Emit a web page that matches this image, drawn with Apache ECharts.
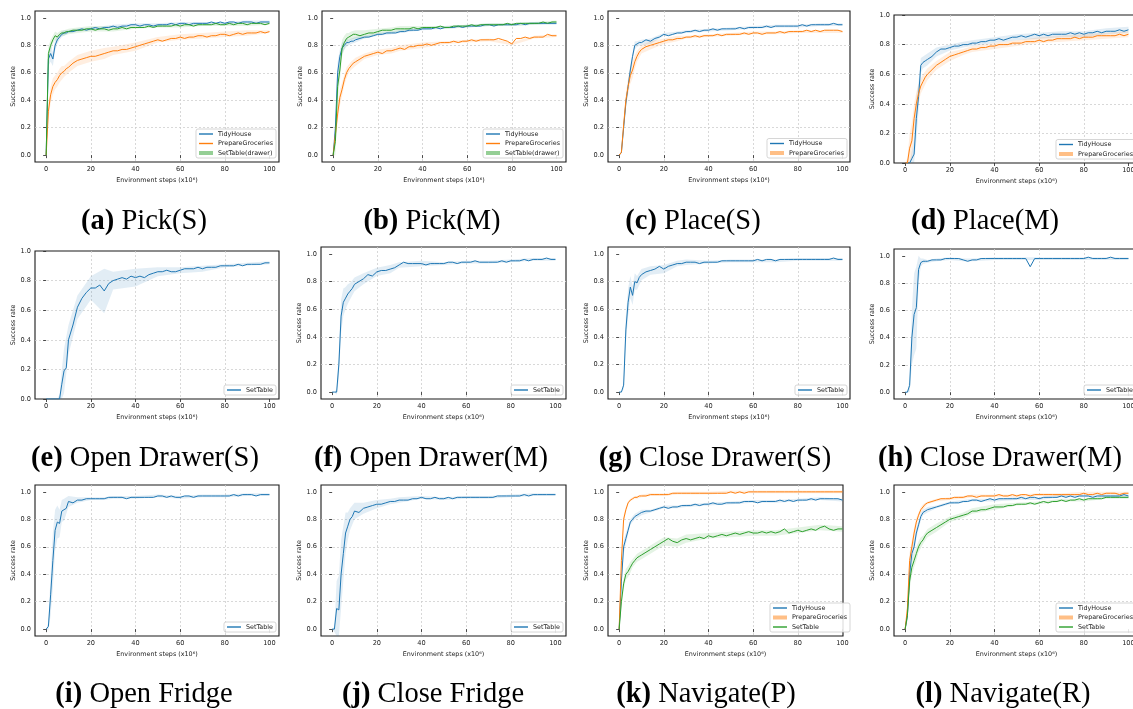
<!DOCTYPE html>
<html>
<head>
<meta charset="utf-8">
<script src="https://cdn.jsdelivr.net/npm/echarts@6/dist/echarts.min.js"></script>
<style>
  html, body { margin: 0; padding: 0; background: #fff; }
  #chart { width: 1133px; height: 709px; }
</style>
</head>
<body>
<div id="chart"></div>
<script>
// x positions (env steps x1e6) for every curve
const XS = [0,1,2,3,4,5,6,7,8,9,10,
  12,14,16,18,20,22,24,26,28,30,
  32,34,36,38,40,42,44,46,48,50,
  52,54,56,58,60,62,64,66,68,70,
  72,74,76,78,80,82,84,86,88,90,
  92,94,96,98,100];
// x positions for the shaded std bands
const BX = [0,1,2,3,4,5,6,7,8,10,14,20,26,30,40,50,60,70,80,90,100];

const X_TICKS = [0,20,40,60,80,100];
const Y_TICKS = [0,0.2,0.4,0.6,0.8,1.0];

// (a) Pick(S)
const A_TIDY = [0,0.70,0.74,0.70,0.80,0.84,0.86,0.88,0.89,0.89,0.90,
  0.90,0.91,0.92,0.91,0.92,0.93,0.92,0.93,0.93,0.94,
  0.93,0.94,0.94,0.95,0.95,0.94,0.95,0.95,0.94,0.95,
  0.95,0.95,0.96,0.95,0.96,0.96,0.95,0.96,0.96,0.96,
  0.96,0.97,0.96,0.97,0.96,0.97,0.97,0.96,0.97,0.97,
  0.97,0.96,0.97,0.97,0.97];
const A_PREP = [0,0.32,0.44,0.50,0.53,0.55,0.58,0.60,0.61,0.63,0.64,
  0.67,0.69,0.70,0.71,0.72,0.72,0.73,0.74,0.75,0.76,
  0.76,0.77,0.77,0.78,0.79,0.80,0.81,0.82,0.83,0.84,
  0.83,0.84,0.85,0.85,0.86,0.85,0.86,0.86,0.87,0.87,
  0.86,0.87,0.87,0.88,0.88,0.87,0.88,0.89,0.88,0.89,
  0.89,0.89,0.90,0.89,0.90];
const A_SET = [0,0.74,0.80,0.84,0.87,0.86,0.88,0.89,0.89,0.90,0.90,
  0.91,0.91,0.91,0.92,0.92,0.91,0.92,0.92,0.91,0.92,
  0.92,0.93,0.92,0.93,0.93,0.93,0.93,0.94,0.93,0.94,
  0.94,0.94,0.94,0.95,0.94,0.95,0.95,0.94,0.95,0.95,
  0.95,0.95,0.96,0.95,0.95,0.96,0.95,0.96,0.96,0.95,
  0.96,0.96,0.96,0.95,0.96];
const A_TIDY_SD = [0,0.05,0.06,0.05,0.04,0.03,0.02,0.02,0.02,0.01,0.01,0.01,0.01,0.01,0.01,0.01,0.01,0.01,0.01,0.01,0.01];
const A_PREP_SD = [0,0.06,0.06,0.06,0.05,0.05,0.05,0.05,0.04,0.04,0.04,0.04,0.04,0.03,0.03,0.02,0.02,0.02,0.02,0.02,0.01];
const A_SET_SD = [0,0.05,0.04,0.03,0.03,0.03,0.02,0.02,0.02,0.02,0.02,0.02,0.02,0.02,0.01,0.01,0.01,0.01,0.01,0.01,0.01];

// (b) Pick(M)
const B_TIDY = [0,0.20,0.60,0.72,0.78,0.80,0.82,0.82,0.83,0.83,0.84,
  0.85,0.86,0.86,0.87,0.88,0.88,0.89,0.89,0.89,0.90,
  0.90,0.91,0.91,0.91,0.92,0.92,0.92,0.93,0.92,0.93,
  0.93,0.93,0.94,0.93,0.94,0.94,0.94,0.94,0.95,0.95,
  0.94,0.95,0.95,0.95,0.95,0.95,0.96,0.95,0.96,0.96,
  0.96,0.96,0.96,0.96,0.96];
const B_PREP = [0,0.15,0.30,0.42,0.48,0.55,0.60,0.63,0.65,0.67,0.68,
  0.70,0.72,0.73,0.74,0.75,0.74,0.76,0.76,0.77,0.78,
  0.77,0.79,0.79,0.80,0.80,0.81,0.80,0.81,0.82,0.82,
  0.82,0.83,0.82,0.83,0.83,0.84,0.83,0.84,0.84,0.84,
  0.84,0.85,0.84,0.83,0.81,0.85,0.85,0.86,0.85,0.86,
  0.86,0.86,0.88,0.87,0.87];
const B_SET = [0,0.10,0.50,0.62,0.78,0.82,0.85,0.86,0.87,0.88,0.88,
  0.87,0.88,0.89,0.89,0.90,0.91,0.91,0.91,0.92,0.92,
  0.92,0.92,0.93,0.92,0.93,0.93,0.93,0.93,0.94,0.93,
  0.93,0.94,0.94,0.94,0.94,0.95,0.94,0.95,0.95,0.95,
  0.95,0.95,0.95,0.96,0.95,0.96,0.96,0.96,0.96,0.96,
  0.96,0.97,0.96,0.97,0.97];
const B_TIDY_SD = [0,0.05,0.08,0.05,0.04,0.03,0.03,0.02,0.02,0.02,0.01,0.01,0.01,0.01,0.01,0.01,0.01,0.01,0.01,0.01,0.01];
const B_PREP_SD = [0,0.05,0.06,0.06,0.05,0.04,0.04,0.03,0.03,0.03,0.02,0.02,0.02,0.02,0.02,0.01,0.01,0.01,0.01,0.01,0.01];
const B_SET_SD = [0,0.10,0.10,0.08,0.06,0.05,0.04,0.03,0.03,0.03,0.03,0.02,0.02,0.02,0.01,0.01,0.01,0.01,0.01,0.01,0.01];

// (c) Place(S)
const C_TIDY = [0,0.02,0.20,0.38,0.50,0.62,0.72,0.80,0.81,0.82,0.82,
  0.84,0.83,0.85,0.86,0.88,0.87,0.88,0.89,0.89,0.90,
  0.90,0.91,0.90,0.91,0.91,0.92,0.91,0.92,0.92,0.92,
  0.92,0.93,0.92,0.93,0.93,0.93,0.93,0.94,0.93,0.94,
  0.94,0.94,0.94,0.94,0.94,0.95,0.94,0.95,0.95,0.95,
  0.95,0.95,0.96,0.95,0.95];
const C_PREP = [0,0.02,0.22,0.40,0.50,0.58,0.62,0.68,0.72,0.75,0.77,
  0.79,0.80,0.81,0.82,0.83,0.84,0.84,0.85,0.85,0.86,
  0.86,0.87,0.86,0.87,0.87,0.87,0.88,0.87,0.88,0.88,
  0.88,0.88,0.89,0.88,0.89,0.89,0.88,0.89,0.89,0.89,
  0.90,0.89,0.90,0.90,0.90,0.90,0.91,0.90,0.91,0.90,
  0.91,0.91,0.91,0.91,0.90];
const C_TIDY_SD = [0,0.01,0.03,0.04,0.04,0.04,0.03,0.03,0.02,0.02,0.02,0.01,0.01,0.01,0.01,0.01,0.01,0.01,0.01,0.01,0.01];
const C_PREP_SD = [0,0.01,0.03,0.05,0.06,0.06,0.06,0.05,0.04,0.03,0.03,0.02,0.02,0.01,0.01,0.01,0.01,0.01,0.01,0.01,0.01];

// (d) Place(M)
const D_TIDY = [0,0,0,0.03,0.06,0.30,0.45,0.66,0.68,0.69,0.70,
  0.72,0.75,0.77,0.77,0.78,0.79,0.79,0.80,0.80,0.81,
  0.81,0.82,0.82,0.83,0.83,0.84,0.83,0.84,0.85,0.85,
  0.86,0.85,0.86,0.87,0.86,0.87,0.86,0.87,0.87,0.87,
  0.87,0.88,0.87,0.88,0.87,0.88,0.88,0.89,0.88,0.89,
  0.89,0.89,0.90,0.89,0.90];
const D_PREP = [0,0,0.10,0.15,0.30,0.40,0.47,0.52,0.55,0.58,0.60,
  0.63,0.66,0.68,0.70,0.72,0.73,0.74,0.75,0.76,0.77,
  0.77,0.78,0.78,0.79,0.79,0.80,0.80,0.80,0.81,0.81,
  0.81,0.82,0.82,0.82,0.83,0.82,0.83,0.83,0.84,0.84,
  0.84,0.84,0.85,0.84,0.85,0.85,0.85,0.86,0.86,0.86,
  0.86,0.86,0.87,0.86,0.87];
const D_TIDY_SD = [0,0,0,0.05,0.10,0.15,0.10,0.05,0.04,0.04,0.03,0.02,0.02,0.02,0.02,0.02,0.02,0.02,0.02,0.02,0.02];
const D_PREP_SD = [0,0.03,0.10,0.12,0.10,0.08,0.06,0.05,0.05,0.04,0.03,0.03,0.02,0.02,0.02,0.02,0.02,0.02,0.02,0.02,0.02];

// (e) Open Drawer(S)
const E_SET = [0,0,0,0,0,0,0,0.10,0.19,0.21,0.40,
  0.50,0.62,0.68,0.72,0.75,0.75,0.77,0.73,0.78,0.80,
  0.81,0.82,0.81,0.83,0.82,0.83,0.82,0.84,0.85,0.86,
  0.86,0.87,0.86,0.86,0.87,0.88,0.88,0.88,0.89,0.88,
  0.89,0.89,0.89,0.90,0.90,0.90,0.90,0.91,0.90,0.91,
  0.91,0.91,0.91,0.92,0.92];
const E_SET_SD = [0,0,0,0,0,0,0.03,0.10,0.15,0.10,0.08,0.08,0.15,0.06,0.06,0.03,0.02,0.02,0.01,0.01,0.01];

// (f) Open Drawer(M)
const F_SET = [0,0,0,0.20,0.55,0.65,0.68,0.71,0.73,0.75,0.78,
  0.80,0.82,0.85,0.84,0.87,0.88,0.88,0.89,0.90,0.92,
  0.94,0.93,0.93,0.93,0.93,0.92,0.93,0.93,0.93,0.93,
  0.94,0.94,0.93,0.94,0.94,0.94,0.95,0.94,0.94,0.94,
  0.94,0.94,0.95,0.94,0.95,0.95,0.95,0.96,0.95,0.96,
  0.96,0.96,0.97,0.96,0.96];
const F_SET_SD = [0,0,0.02,0.10,0.12,0.10,0.08,0.07,0.06,0.05,0.04,0.03,0.03,0.02,0.02,0.01,0.01,0.01,0.01,0.01,0.01];

// (g) Close Drawer(S)
const G_SET = [0,0,0.05,0.45,0.65,0.76,0.70,0.80,0.79,0.83,0.85,
  0.87,0.88,0.89,0.91,0.89,0.91,0.92,0.93,0.93,0.94,
  0.94,0.94,0.93,0.94,0.94,0.94,0.94,0.95,0.95,0.95,
  0.95,0.95,0.95,0.95,0.95,0.96,0.95,0.96,0.96,0.95,
  0.96,0.96,0.96,0.96,0.96,0.96,0.96,0.96,0.96,0.96,
  0.96,0.96,0.97,0.96,0.96];
const G_SET_SD = [0,0,0.03,0.10,0.10,0.08,0.07,0.06,0.05,0.04,0.03,0.03,0.02,0.02,0.01,0.01,0.01,0.01,0.01,0.01,0.01];

// (h) Close Drawer(M)
const H_SET = [0,0,0.05,0.40,0.57,0.62,0.90,0.95,0.96,0.96,0.96,
  0.97,0.97,0.97,0.98,0.98,0.98,0.98,0.97,0.96,0.97,
  0.97,0.98,0.98,0.98,0.98,0.98,0.98,0.98,0.98,0.98,
  0.98,0.98,0.92,0.98,0.98,0.98,0.98,0.98,0.98,0.98,
  0.98,0.98,0.98,0.98,0.98,0.99,0.98,0.98,0.98,0.98,
  0.99,0.98,0.98,0.98,0.98];
const H_SET_SD = [0,0,0.05,0.20,0.30,0.30,0.10,0.03,0.02,0.01,0.01,0.01,0.01,0.01,0.01,0.01,0.01,0.01,0.01,0.01,0.01];

// (i) Open Fridge
const I_SET = [0,0.02,0.25,0.50,0.72,0.78,0.77,0.86,0.87,0.88,0.93,
  0.92,0.94,0.94,0.95,0.95,0.95,0.95,0.95,0.96,0.96,
  0.96,0.96,0.95,0.96,0.96,0.96,0.96,0.96,0.96,0.97,
  0.97,0.96,0.97,0.96,0.96,0.97,0.97,0.96,0.97,0.97,
  0.97,0.97,0.97,0.97,0.97,0.97,0.98,0.97,0.98,0.98,
  0.98,0.97,0.98,0.98,0.98];
const I_SET_SD = [0,0.03,0.15,0.20,0.15,0.12,0.10,0.08,0.08,0.04,0.02,0.01,0.01,0.01,0.01,0.01,0.01,0.01,0.01,0.01,0.01];

// (j) Close Fridge
const J_SET = [0,0,0.15,0.14,0.40,0.55,0.70,0.75,0.80,0.82,0.86,
  0.85,0.88,0.89,0.90,0.91,0.91,0.92,0.93,0.93,0.94,
  0.94,0.94,0.95,0.95,0.96,0.95,0.95,0.96,0.95,0.95,
  0.96,0.95,0.96,0.96,0.96,0.96,0.96,0.96,0.96,0.96,
  0.96,0.97,0.97,0.97,0.97,0.97,0.97,0.98,0.97,0.98,
  0.98,0.98,0.98,0.98,0.98];
const J_SET_SD = [0,0.02,0.20,0.25,0.25,0.20,0.15,0.10,0.08,0.06,0.04,0.03,0.02,0.02,0.01,0.01,0.01,0.01,0.01,0.01,0.01];

// (k) Navigate(P)
const K_TIDY = [0,0.35,0.60,0.66,0.72,0.78,0.80,0.82,0.83,0.84,0.85,
  0.86,0.86,0.87,0.88,0.89,0.88,0.89,0.89,0.90,0.90,
  0.90,0.91,0.90,0.91,0.91,0.92,0.91,0.91,0.92,0.92,
  0.92,0.92,0.93,0.93,0.93,0.92,0.93,0.93,0.93,0.93,
  0.94,0.93,0.94,0.93,0.94,0.94,0.94,0.95,0.94,0.95,
  0.95,0.95,0.95,0.95,0.94];
const K_PREP = [0,0.50,0.80,0.87,0.92,0.94,0.95,0.96,0.96,0.97,0.97,
  0.97,0.98,0.98,0.98,0.98,0.98,0.99,0.99,0.99,0.99,
  0.99,0.99,0.99,0.99,0.99,0.99,0.99,0.99,0.99,1.00,
  0.99,1.00,0.99,1.00,1.00,1.00,1.00,1.00,1.00,1.00,
  1.00,1.00,1.00,1.00,1.00,1.00,1.00,1.00,1.00,1.00,
  1.00,1.00,1.00,1.00,1.00];
const K_SET = [0,0.20,0.33,0.40,0.42,0.45,0.48,0.50,0.52,0.53,0.54,
  0.56,0.58,0.60,0.62,0.64,0.66,0.64,0.63,0.65,0.66,
  0.65,0.66,0.67,0.66,0.68,0.67,0.68,0.69,0.68,0.69,
  0.70,0.69,0.70,0.71,0.70,0.70,0.71,0.70,0.71,0.70,
  0.71,0.73,0.70,0.71,0.72,0.71,0.72,0.73,0.72,0.74,
  0.75,0.73,0.72,0.73,0.73];
const K_TIDY_SD = [0,0.05,0.05,0.04,0.03,0.02,0.02,0.02,0.02,0.02,0.01,0.01,0.01,0.01,0.01,0.01,0.01,0.01,0.01,0.01,0.01];
const K_PREP_SD = [0,0.05,0.03,0.02,0.01,0.01,0.01,0.01,0.01,0.01,0.01,0.01,0.01,0.01,0.01,0.01,0.01,0.01,0.01,0.01,0.01];
const K_SET_SD = [0,0.04,0.04,0.04,0.04,0.04,0.03,0.03,0.03,0.03,0.03,0.03,0.03,0.03,0.02,0.02,0.02,0.02,0.02,0.02,0.02];

// (l) Navigate(R)
const L_TIDY = [0,0.10,0.40,0.55,0.60,0.70,0.76,0.82,0.85,0.86,0.87,
  0.88,0.89,0.90,0.91,0.92,0.92,0.92,0.93,0.93,0.94,
  0.94,0.93,0.94,0.95,0.94,0.95,0.95,0.95,0.95,0.95,
  0.96,0.95,0.96,0.96,0.95,0.96,0.96,0.96,0.96,0.97,
  0.96,0.97,0.96,0.97,0.97,0.97,0.96,0.97,0.97,0.97,
  0.97,0.97,0.97,0.98,0.97];
const L_PREP = [0,0.15,0.50,0.60,0.70,0.78,0.83,0.87,0.89,0.91,0.92,
  0.93,0.94,0.95,0.95,0.95,0.96,0.96,0.96,0.97,0.97,
  0.96,0.97,0.97,0.97,0.97,0.98,0.97,0.97,0.98,0.97,
  0.98,0.98,0.97,0.98,0.98,0.98,0.98,0.98,0.98,0.98,
  0.98,0.98,0.98,0.98,0.99,0.98,0.98,0.99,0.98,0.99,
  0.99,0.99,0.98,0.99,0.99];
const L_SET = [0,0.10,0.35,0.45,0.50,0.55,0.60,0.63,0.65,0.68,0.70,
  0.72,0.74,0.76,0.78,0.80,0.81,0.82,0.83,0.84,0.86,
  0.86,0.87,0.87,0.88,0.89,0.89,0.89,0.90,0.90,0.91,
  0.91,0.91,0.92,0.91,0.92,0.93,0.92,0.93,0.93,0.94,
  0.93,0.94,0.94,0.95,0.94,0.95,0.95,0.95,0.95,0.96,
  0.96,0.96,0.96,0.96,0.96];
const L_TIDY_SD = [0,0.04,0.08,0.06,0.05,0.04,0.03,0.03,0.02,0.02,0.01,0.01,0.01,0.01,0.01,0.01,0.01,0.01,0.01,0.01,0.01];
const L_PREP_SD = [0,0.04,0.06,0.05,0.04,0.03,0.02,0.02,0.02,0.01,0.01,0.01,0.01,0.01,0.01,0.01,0.01,0.01,0.01,0.01,0.01];
const L_SET_SD = [0,0.04,0.06,0.06,0.05,0.05,0.04,0.04,0.03,0.03,0.03,0.02,0.02,0.02,0.02,0.01,0.01,0.01,0.01,0.01,0.01];

const BLUE = '#1f77b4', ORANGE = '#ff7f0e', GREEN = '#2ca02c';
const PX_PER_STEP = 2.233; // horizontal scale shared by all panels

// layout of the 12 subplots
const PANELS = [
  {cap:['(a)','Pick(S)'], cx:144, cy:222, l:35, t:11, w:244, h:151, y0:-0.05, y1:1.05, thick:'SetTable(drawer)',
   lines:[['TidyHouse',A_TIDY,A_TIDY_SD,BLUE],['PrepareGroceries',A_PREP,A_PREP_SD,ORANGE],['SetTable(drawer)',A_SET,A_SET_SD,GREEN]]},
  {cap:['(b)','Pick(M)'], cx:432, cy:222, l:322, t:11, w:244, h:151, y0:-0.05, y1:1.05, thick:'SetTable(drawer)',
   lines:[['TidyHouse',B_TIDY,B_TIDY_SD,BLUE],['PrepareGroceries',B_PREP,B_PREP_SD,ORANGE],['SetTable(drawer)',B_SET,B_SET_SD,GREEN]]},
  {cap:['(c)','Place(S)'], cx:693, cy:222, l:608, t:11, w:242, h:151, y0:-0.05, y1:1.05, thick:'PrepareGroceries',
   lines:[['TidyHouse',C_TIDY,C_TIDY_SD,BLUE],['PrepareGroceries',C_PREP,C_PREP_SD,ORANGE]]},
  {cap:['(d)','Place(M)'], cx:985, cy:222, l:894, t:15, w:245, h:148, y0:0, y1:1, thick:'PrepareGroceries',
   lines:[['TidyHouse',D_TIDY,D_TIDY_SD,BLUE],['PrepareGroceries',D_PREP,D_PREP_SD,ORANGE]]},
  {cap:['(e)','Open Drawer(S)'], cx:145, cy:459, l:35, t:251, w:244, h:148, y0:0, y1:1,
   lines:[['SetTable',E_SET,E_SET_SD,BLUE]]},
  {cap:['(f)','Open Drawer(M)'], cx:431, cy:459, l:321, t:247, w:245, h:152, y0:-0.05, y1:1.05,
   lines:[['SetTable',F_SET,F_SET_SD,BLUE]]},
  {cap:['(g)','Close Drawer(S)'], cx:715, cy:459, l:608, t:247, w:242, h:152, y0:-0.05, y1:1.05,
   lines:[['SetTable',G_SET,G_SET_SD,BLUE]]},
  {cap:['(h)','Close Drawer(M)'], cx:1000, cy:459, l:894, t:249, w:245, h:150, y0:-0.05, y1:1.05,
   lines:[['SetTable',H_SET,H_SET_SD,BLUE]]},
  {cap:['(i)','Open Fridge'], cx:144, cy:695, l:35, t:485, w:244, h:151, y0:-0.05, y1:1.05,
   lines:[['SetTable',I_SET,I_SET_SD,BLUE]]},
  {cap:['(j)','Close Fridge'], cx:433, cy:695, l:321, t:485, w:245, h:151, y0:-0.05, y1:1.05,
   lines:[['SetTable',J_SET,J_SET_SD,BLUE]]},
  {cap:['(k)','Navigate(P)'], cx:706, cy:695, l:608, t:485, w:235, h:151, y0:-0.05, y1:1.05, thick:'PrepareGroceries', legRight:850,
   lines:[['TidyHouse',K_TIDY,K_TIDY_SD,BLUE],['PrepareGroceries',K_PREP,K_PREP_SD,ORANGE],['SetTable',K_SET,K_SET_SD,GREEN]]},
  {cap:['(l)','Navigate(R)'], cx:1003, cy:695, l:894, t:485, w:245, h:151, y0:-0.05, y1:1.05, thick:'PrepareGroceries',
   lines:[['TidyHouse',L_TIDY,L_TIDY_SD,BLUE],['PrepareGroceries',L_PREP,L_PREP_SD,ORANGE],['SetTable',L_SET,L_SET_SD,GREEN]]}
];

const W = 1133, H = 709;
const SANS = 'DejaVu Sans';
const SERIF = 'Liberation Serif';

// polygon between lower and upper band edges, drawn once per band series
function bandRender(col) {
  return function (params, api) {
    if (params.dataIndex !== 0) return null;
    const n = params.dataInsideLength;
    const upper = [], lower = [];
    for (let k = 0; k < n; k++) {
      const x = api.value(0, k);
      upper.push(api.coord([x, api.value(2, k)]));
      lower.push(api.coord([x, api.value(1, k)]));
    }
    return {
      type: 'polygon',
      shape: { points: upper.concat(lower.reverse()) },
      style: { fill: col, opacity: 0.13 },
      silent: true
    };
  };
}

let option = {
  animation: false,
  backgroundColor: '#fff',
  grid: [], xAxis: [], yAxis: [], legend: [], series: [], graphic: []
};

PANELS.forEach((p, i) => {
  option.grid.push({
    left: p.l, top: p.t, width: p.w, height: p.h,
    show: true, borderColor: '#1a1a1a', borderWidth: 1.1,
    outerBoundsMode: 'none'
  });
  option.xAxis.push({
    type: 'value', gridIndex: i,
    min: -5, max: -5 + p.w / PX_PER_STEP,
    axisLine: { show: false },
    axisTick: { show: true, length: 3, customValues: X_TICKS, lineStyle: { color: '#222', width: 0.8 } },
    axisLabel: { customValues: X_TICKS, fontSize: 6.6, color: '#222', margin: 4, fontFamily: SANS },
    splitLine: { show: true, showMinLine: false, showMaxLine: false,
      lineStyle: { color: '#cfcfcf', width: 0.8, type: [2, 2] } },
    name: 'Environment steps (x10\u2076)', nameLocation: 'middle', nameGap: 15,
    nameTextStyle: { fontSize: 6.4, color: '#222', fontFamily: SANS }
  });
  option.yAxis.push({
    type: 'value', gridIndex: i,
    min: p.y0, max: p.y1,
    axisLine: { show: false },
    axisTick: { show: true, length: 3, customValues: Y_TICKS, lineStyle: { color: '#222', width: 0.8 } },
    axisLabel: { customValues: Y_TICKS, fontSize: 6.6, color: '#222', margin: 4, fontFamily: SANS,
      formatter: v => v.toFixed(1) },
    splitLine: { show: true, showMinLine: false, showMaxLine: false,
      lineStyle: { color: '#cfcfcf', width: 0.8, type: [2, 2] } },
    name: 'Success rate', nameLocation: 'middle', nameGap: 17,
    nameTextStyle: { fontSize: 6.4, color: '#222', fontFamily: SANS }
  });

  // shaded std bands
  p.lines.forEach(([name, ys, sd, col]) => {
    option.series.push({
      type: 'custom', xAxisIndex: i, yAxisIndex: i,
      data: BX.map((x, k) => {
        const m = ys[XS.indexOf(x)];
        return [x, Math.max(p.y0, m - sd[k]), Math.min(p.y1, m + sd[k])];
      }),
      encode: { x: 0, y: [1, 2] },
      renderItem: bandRender(col),
      silent: true, z: 1
    });
  });

  p.lines.forEach(([name, ys, sd, col]) => {
    option.series.push({
      name: name, type: 'line', xAxisIndex: i, yAxisIndex: i,
      data: XS.map((x, k) => [x, ys[k]]),
      symbol: 'none', lineStyle: { color: col, width: 1 }, itemStyle: { color: col }, z: 3
    });
  });

  const frameRight = p.legRight || (p.l + p.w - 3);
  option.legend.push({
    orient: 'vertical',
    right: W - frameRight, bottom: H - (p.t + p.h - 4),
    itemWidth: 14, itemHeight: 4, itemGap: 3.5, itemTextGap: 5,
    padding: [2, 3, 2, 3],
    borderColor: '#cccccc', borderWidth: 0.8, borderRadius: 2,
    backgroundColor: 'rgba(255,255,255,0.85)',
    textStyle: { fontSize: 6.4, color: '#222', fontFamily: SANS },
    data: p.lines.map(([name, ys, sd, col]) => {
      const thick = name === p.thick;
      return {
        name: name,
        icon: thick ? 'rect' : 'path://M0,0H14V1.4H0Z',
        itemStyle: { color: col, opacity: thick ? 0.5 : 1, borderWidth: 0 }
      };
    })
  });

  option.graphic.push({
    type: 'text', x: p.cx, y: p.cy,
    style: {
      text: '{b|' + p.cap[0] + '} ' + p.cap[1],
      fontFamily: SERIF, fontSize: 28.5, fill: '#000',
      align: 'center', verticalAlign: 'middle',
      textAlign: 'center', textVerticalAlign: 'middle',
      rich: { b: { fontWeight: 'bold', fontFamily: SERIF, fontSize: 28.5 } }
    }
  });
});

let myChart = echarts.init(document.getElementById('chart'));
myChart.setOption(option);
</script>
</body>
</html>
